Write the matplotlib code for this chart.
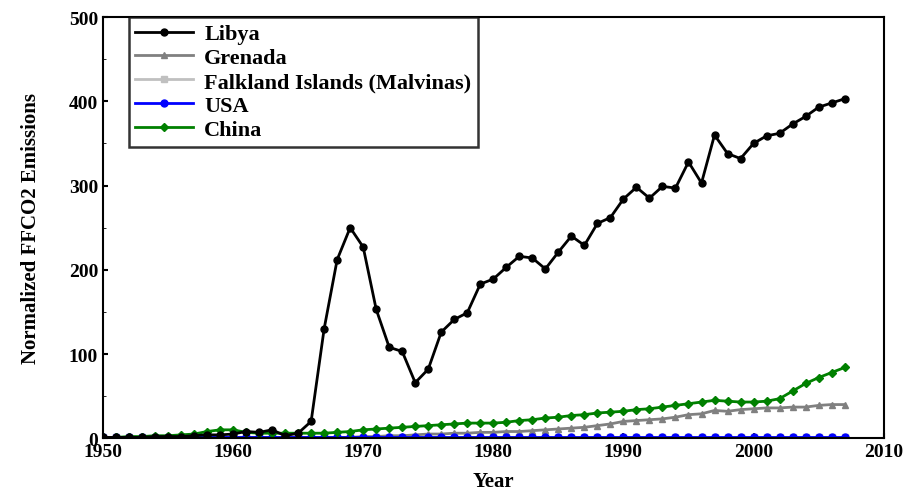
import matplotlib
matplotlib.use("Agg")
import matplotlib.pyplot as plt
import numpy as np
from matplotlib.ticker import AutoMinorLocator

years = list(range(1950, 2008))
libya = [1,1,1,1,2,2,2,3,4,4,5,8,7,10,3,6,20,130,212,250,227,153,108,103,66,82,126,141,149,183,189,203,216,214,201,221,240,229,255,262,284,298,285,299,297,328,303,360,338,332,350,359,362,373,382,393,398,403]
china = [1,1,2,2,3,3,4,5,8,10,10,7,6,6,6,6,6,6,7,8,10,11,12,13,14,15,16,17,18,18,18,19,21,22,24,25,27,28,30,31,32,34,35,37,39,41,43,45,44,43,43,44,47,56,65,72,78,84]
grenada = [1,1,1,1,1,1,1,1,1,1,1,1,1,1,1,1,1,1,1,1,2,2,3,3,4,5,5,6,6,7,7,8,8,9,10,11,12,13,15,17,20,21,22,23,25,28,29,33,32,34,35,36,36,37,37,39,40,40]
falkland = [2]*58
usa = [1]*58

plt.rcParams['font.family'] = ['Liberation Serif', 'DejaVu Serif']
plt.rcParams['font.weight'] = 'bold'
fig, ax = plt.subplots(figsize=(9.11, 5.02), dpi=100)
fig.subplots_adjust(left=0.113, right=0.97, bottom=0.125, top=0.964)
ax.plot(years, falkland, color='#c0c0c0', marker='s', ms=5, lw=2, label='Falkland Islands (Malvinas)')
ax.plot(years, grenada, color='#808080', marker='^', ms=5, lw=2, label='Grenada')
ax.plot(years, usa, color='#0000ff', marker='o', ms=5, lw=2, label='USA')
ax.plot(years, china, color='#008000', marker='D', ms=4, lw=2, label='China')
ax.plot(years, libya, color='black', marker='o', ms=5, lw=2, label='Libya')
h, l = ax.get_legend_handles_labels()
order = [4, 1, 0, 2, 3]
leg = ax.legend([h[i] for i in order], [l[i] for i in order], loc='upper left', bbox_to_anchor=(0.033, 1.0),
                fancybox=False, edgecolor='black', prop={'size': 16, 'weight': 'bold'},
                handlelength=2.6, handletextpad=0.5, borderpad=0.3,
                labelspacing=0.15, borderaxespad=0)
leg.get_frame().set_linewidth(1.8)
ax.set_xlim(1950, 2010)
ax.set_ylim(0, 500)
ax.set_xticks(range(1950, 2011, 10))
ax.set_yticks(range(0, 501, 100))
ax.tick_params(labelsize=14, direction='in', width=1.5)
ax.tick_params(which='minor', direction='in')
ax.xaxis.set_minor_locator(AutoMinorLocator(2))
ax.yaxis.set_minor_locator(AutoMinorLocator(2))
for s in ax.spines.values():
    s.set_linewidth(1.5)
ax.set_xlabel('Year', fontsize=15, fontweight='bold', labelpad=8)
ax.set_ylabel('Normalized FFCO2 Emissions', fontsize=15, fontweight='bold', labelpad=20)
fig.savefig('out.png')
